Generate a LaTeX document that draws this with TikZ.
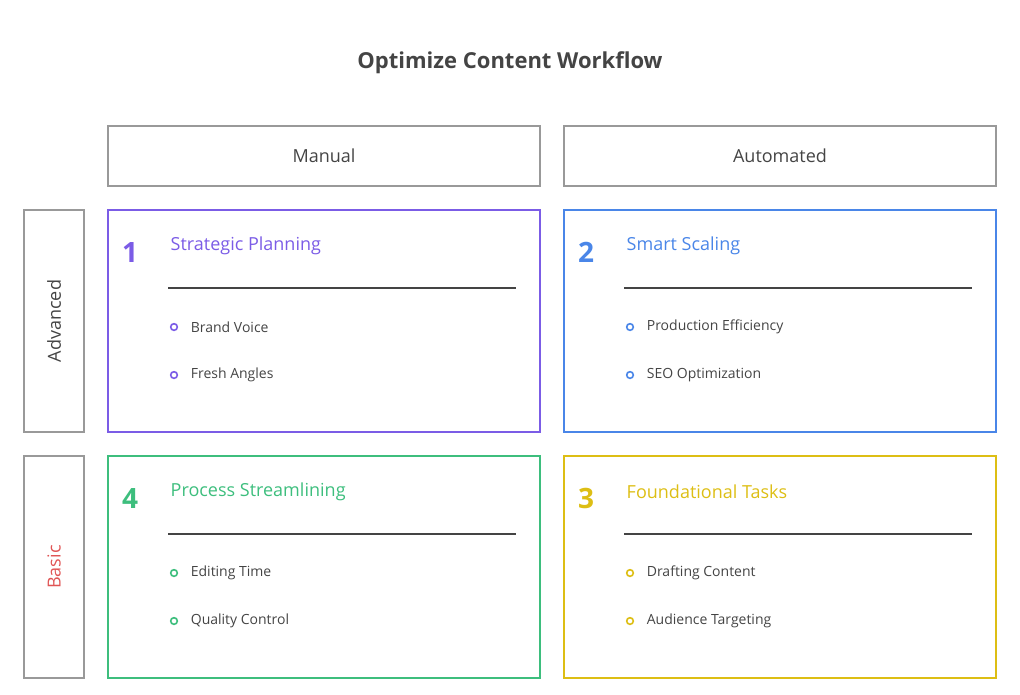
\documentclass[tikz,border=0pt]{standalone}
\usepackage{fontspec}
\setmainfont{Open Sans}
\usetikzlibrary{positioning}
\definecolor{cPurple}{HTML}{7B5CE6}
\definecolor{cBlue}{HTML}{4A86E8}
\definecolor{cGreen}{HTML}{3DBE7D}
\definecolor{cYellow}{HTML}{DDBE14}
\definecolor{cRed}{HTML}{E05555}
\definecolor{cText}{HTML}{444444}
\definecolor{cFrame}{HTML}{999999}
\tikzset{
  frame/.style={draw=cFrame,line width=1.3pt},
  head/.style={font=\fontsize{13.5}{16}\selectfont,text=cText},
  item/.style={font=\fontsize{10.5}{12}\selectfont,text=cText,anchor=west},
  dot/.style={circle,draw=#1,line width=1.2pt,inner sep=0pt,minimum size=5pt}
}
\newcommand{\quadbox}[7]{% x, y, colour, number, title, item1, item2
  \draw[draw=#3,line width=1.3pt] (#1,#2) rectangle ++(432,222);
  \node[text=#3,font=\bfseries\fontsize{21}{24}\selectfont] (num#4) at (#1+22,#2+42) {#4};
  \node[text=#3,font=\fontsize{13.5}{16}\selectfont,anchor=west] (title#4) at (#1+58,#2+36) {#5};
  \draw[cText,line width=1pt] (#1+60,#2+78) -- (#1+408,#2+78);
  \node[dot=#3] (dotA#4) at (#1+66,#2+117) {};
  \node[item,right=6pt of dotA#4] {#6};
  \node[dot=#3] (dotB#4) at (#1+66,#2+165) {};
  \node[item,right=6pt of dotB#4] {#7};
}
\begin{document}
\begin{tikzpicture}[x=0.75pt,y=-0.75pt]
  \useasboundingbox (0,0) rectangle (1020,694);
  \node[font=\bfseries\fontsize{16.5}{20}\selectfont,text=cText] (title) at (510,63) {Optimize Content Workflow};
  % column headers
  \draw[frame] (108,126) rectangle (540,186);
  \node[head] (manual) at (324,156) {Manual};
  \draw[frame] (564,126) rectangle (996,186);
  \node[head] (auto) at (780,156) {Automated};
  % row headers
  \draw[frame] (24,210) rectangle (84,432);
  \node[head,rotate=90] (adv) at (54,321) {Advanced};
  \draw[frame] (24,456) rectangle (84,678);
  \node[head,rotate=90,text=cRed] (basic) at (54,567) {Basic};
  % quadrants
  \quadbox{108}{210}{cPurple}{1}{Strategic Planning}{Brand Voice}{Fresh Angles}
  \quadbox{564}{210}{cBlue}{2}{Smart Scaling}{Production Efficiency}{SEO Optimization}
  \quadbox{108}{456}{cGreen}{4}{Process Streamlining}{Editing Time}{Quality Control}
  \quadbox{564}{456}{cYellow}{3}{Foundational Tasks}{Drafting Content}{Audience Targeting}
\end{tikzpicture}
\end{document}
